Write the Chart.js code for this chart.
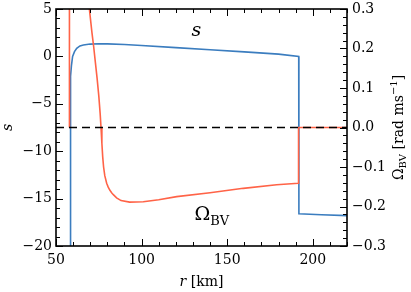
<!DOCTYPE html>
<html>
<head>
<meta charset="utf-8">
<script src="https://cdn.jsdelivr.net/npm/chart.js@4.4.1/dist/chart.umd.min.js"></script>
<style>
  html, body { margin: 0; padding: 0; background: #fff; }
  #wrap { width: 411px; height: 292px; }
</style>
</head>
<body>
<div id="wrap"><canvas id="myChart" width="411" height="292"></canvas></div>
<script>
// r in km, s (left axis)
const rS = [58.2, 58.4, 58.6, 59.0, 59.7, 60.8, 62.1, 64, 66, 70, 75, 80, 90, 100, 120, 140, 160, 180, 191.8, 191.9, 205, 220];
const sVals = [-21, -3.5, -2.1, -1.0, 0.0, 0.5, 0.85, 1.1, 1.2, 1.3, 1.33, 1.32, 1.25, 1.15, 0.93, 0.7, 0.48, 0.24, 0.0, -16.6, -16.7, -16.8];

// r in km, Omega_BV in rad/ms (right axis)
const rOmega = [57.8, 57.85, 65, 69.5, 71, 72, 73, 74, 75, 75.8, 76.3, 76.8, 77.3, 77.8, 78.5, 79.6, 80.5, 81.5, 82.5, 83.5, 85.4, 88, 93, 101, 110, 120.5, 140, 159.4, 178.9, 191.6, 191.7, 220];
const omegaVals = [0, 1.5, 0.6, 0.30, 0.24, 0.205, 0.165, 0.125, 0.08, 0.035, 0.0, -0.04, -0.075, -0.1, -0.122, -0.141, -0.151, -0.159, -0.165, -0.17, -0.178, -0.185, -0.189, -0.188, -0.183, -0.175, -0.165, -0.154, -0.145, -0.141, 0, 0];

const rTicks = [50, 100, 150, 200];
const sTicks = [-20, -15, -10, -5, 0, 5];
const omegaTicks = [-0.3, -0.2, -0.1, 0.0, 0.1, 0.2, 0.3];

const FONT = '"DejaVu Serif", "Liberation Serif", serif';
const BLUE = "#3b7dbf";
const RED = "#ff6347";

const fmt = (v, d) => {
	if (Math.abs(v) < 1e-9) return (0).toFixed(d);
	const s = Math.abs(v).toFixed(d);
	return v < 0 ? "\u2212" + s : s;
};

// draws pieces of text (with sub/superscripts) centred on (x, y)
const drawRich = (ctx, parts, x, y, angle) => {
	ctx.save();
	ctx.translate(x, y);
	ctx.rotate(angle || 0);
	ctx.textBaseline = "alphabetic";
	ctx.textAlign = "left";
	let w = 0;
	parts.forEach((p) => {
		ctx.font = p.font;
		w += ctx.measureText(p.t).width;
	});
	let cx = -w / 2;
	parts.forEach((p) => {
		ctx.font = p.font;
		ctx.fillText(p.t, cx, p.dy || 0);
		cx += ctx.measureText(p.t).width;
	});
	ctx.restore();
};

const frame = {
	id: "frame",
	afterDatasetsDraw(chart) {
		const { ctx, chartArea: a, scales } = chart;
		const sx = scales.x, sy = scales.y, sy1 = scales.y1;
		ctx.save();
		ctx.strokeStyle = "#000";
		ctx.fillStyle = "#000";

		// inward ticks
		ctx.lineWidth = 1;
		const tick = (scale, v, len, side) => {
			const p = Math.round(scale.getPixelForValue(v)) + 0.5;
			ctx.beginPath();
			if (side === "bottom") { ctx.moveTo(p, a.bottom); ctx.lineTo(p, a.bottom - len); }
			if (side === "top") { ctx.moveTo(p, a.top); ctx.lineTo(p, a.top + len); }
			if (side === "left") { ctx.moveTo(a.left, p); ctx.lineTo(a.left + len, p); }
			if (side === "right") { ctx.moveTo(a.right, p); ctx.lineTo(a.right - len, p); }
			ctx.stroke();
		};
		for (let v = 50; v <= 220; v += 10) {
			const major = v % 50 === 0;
			tick(sx, v, major ? 7 : 4, "bottom");
			tick(sx, v, major ? 7 : 4, "top");
		}
		for (let v = -20; v <= 5; v += 1) {
			tick(sy, v, v % 5 === 0 ? 7 : 4, "left");
		}
		for (let i = -15; i <= 15; i++) {
			tick(sy1, i * 0.02, i % 5 === 0 ? 7 : 4, "right");
		}

		// spines
		ctx.lineWidth = 1.6;
		ctx.strokeRect(a.left, a.top, a.right - a.left, a.bottom - a.top);

		// axis titles
		const it = (n) => "italic " + n + "px " + FONT;
		const rm = (n) => n + "px " + FONT;
		drawRich(ctx, [{ t: "r", font: it(14) }, { t: " [km]", font: rm(14) }], (a.left + a.right) / 2, 286);
		drawRich(ctx, [{ t: "s", font: it(14) }], 12, (a.top + a.bottom) / 2, -Math.PI / 2);
		drawRich(ctx, [
			{ t: "\u03A9", font: rm(14) },
			{ t: "BV", font: rm(10), dy: 3 },
			{ t: " [rad ms", font: rm(14) },
			{ t: "\u22121", font: rm(10), dy: -6 },
			{ t: "]", font: rm(14) },
		], 403, (a.top + a.bottom) / 2, -Math.PI / 2);

		// curve labels
		drawRich(ctx, [{ t: "s", font: it(19) }], sx.getPixelForValue(132), sy.getPixelForValue(2.1));
		drawRich(ctx, [{ t: "\u03A9", font: rm(19) }, { t: "BV", font: rm(13), dy: 5 }],
			sx.getPixelForValue(141), sy.getPixelForValue(-17.3));
		ctx.restore();
	},
};

const fitY = (w) => (sc) => {
	sc.width = w;
	sc.paddingTop = 0;
	sc.paddingBottom = 0;
};

const ctx = document.getElementById("myChart").getContext("2d");

const myChart = new Chart(ctx, {
	type: "line",
	data: {
		datasets: [
			{
				label: "zero",
				data: [{ x: 50, y: 0 }, { x: 220, y: 0 }],
				yAxisID: "y1",
				borderColor: "#000",
				borderWidth: 1.6,
				borderDash: [8, 5],
				order: 0,
			},
			{
				label: "Omega_BV",
				data: rOmega.map((r, i) => ({ x: r, y: omegaVals[i] })),
				yAxisID: "y1",
				borderColor: RED,
				borderWidth: 1.6,
				order: 1,
			},
			{
				label: "s",
				data: rS.map((r, i) => ({ x: r, y: sVals[i] })),
				yAxisID: "y",
				borderColor: BLUE,
				borderWidth: 1.6,
				order: 2,
			},
		],
	},
	options: {
		responsive: false,
		animation: false,
		devicePixelRatio: 1,
		clip: 0,
		elements: { point: { radius: 0 }, line: { tension: 0 } },
		layout: { padding: { top: 9, left: 0, right: 0, bottom: 0 } },
		plugins: { legend: { display: false }, tooltip: { enabled: false } },
		scales: {
			x: {
				type: "linear",
				min: 50,
				max: 220,
				grid: { display: false, drawTicks: false },
				border: { display: false },
				afterBuildTicks: (sc) => { sc.ticks = rTicks.map((v) => ({ value: v })); },
				afterFit: (sc) => { sc.height = 46; sc.paddingLeft = 0; sc.paddingRight = 0; },
				ticks: {
					color: "#000",
					padding: 6,
					font: { family: FONT, size: 14 },
					maxRotation: 0,
					callback: (v) => String(v),
				},
			},
			y: {
				type: "linear",
				position: "left",
				min: -20,
				max: 5,
				grid: { display: false, drawTicks: false },
				border: { display: false },
				afterBuildTicks: (sc) => { sc.ticks = sTicks.map((v) => ({ value: v })); },
				afterFit: fitY(56),
				ticks: {
					color: "#000",
					padding: 4,
					font: { family: FONT, size: 14 },
					callback: (v) => fmt(v, 0),
				},
			},
			y1: {
				type: "linear",
				position: "right",
				min: -0.3,
				max: 0.3,
				grid: { display: false, drawTicks: false },
				border: { display: false },
				afterBuildTicks: (sc) => { sc.ticks = omegaTicks.map((v) => ({ value: v })); },
				afterFit: fitY(64),
				ticks: {
					color: "#000",
					padding: 5,
					font: { family: FONT, size: 14 },
					callback: (v) => fmt(v, 1),
				},
			},
		},
	},
	plugins: [frame],
});
</script>
</body>
</html>
